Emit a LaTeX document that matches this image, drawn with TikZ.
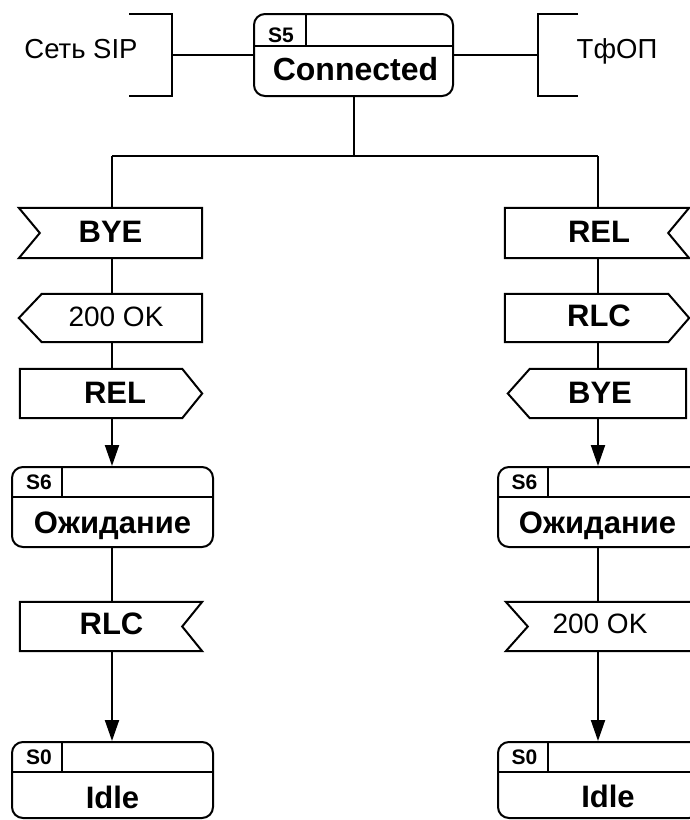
\documentclass[tikz,border=0pt]{standalone}
\usepackage{fontspec}
\setmainfont{Liberation Sans}
\usetikzlibrary{arrows.meta,calc}
\tikzset{
  ln/.style={line width=2pt, line join=miter},
  arr/.style={ln, -{Triangle[length=21pt,width=14pt]}},
  statebox/.style={draw, line width=2pt, rounded corners=11pt, inner sep=0pt},
  sigframe/.style={inner sep=0pt},
  bigb/.style={font=\fontsize{31}{34}\selectfont\bfseries, anchor=base, inner sep=0pt},
  bigr/.style={font=\fontsize{28}{32}\selectfont, anchor=base, inner sep=0pt},
  lbl/.style={font=\fontsize{27.5}{30}\selectfont, anchor=base, inner sep=0pt},
  stag/.style={font=\fontsize{21}{24}\selectfont\bfseries, anchor=base, inner sep=0pt},
}
% signal shapes drawn on an invisible frame node
\newcommand{\sigInL}[2]{\draw[ln] (#1.north west) -- (#1.north east) -- (#1.south east) -- (#1.south west) -- ($(#1.west)+(#2,0)$) -- cycle;}
\newcommand{\sigInR}[2]{\draw[ln] (#1.north west) -- (#1.north east) -- ($(#1.east)-(#2,0)$) -- (#1.south east) -- (#1.south west) -- cycle;}
\newcommand{\sigOutL}[2]{\draw[ln] ($(#1.north west)+(#2,0)$) -- (#1.north east) -- (#1.south east) -- ($(#1.south west)+(#2,0)$) -- (#1.west) -- cycle;}
\newcommand{\sigOutR}[2]{\draw[ln] (#1.north west) -- ($(#1.north east)-(#2,0)$) -- (#1.east) -- ($(#1.south east)-(#2,0)$) -- (#1.south west) -- cycle;}
\begin{document}
\begin{tikzpicture}[x=1pt,y=-1pt]
\useasboundingbox (0,0) rectangle (690,820);

% ---------- top: Connected with environment brackets ----------
\node[statebox, minimum width=199pt, minimum height=82pt] (s5) at (353.5,55) {};
\draw[ln] (s5.west |- 0,46) -- (s5.east |- 0,46);
\draw[ln] (306,14) -- (306,46);
\node[stag] (s5tag) at (281,42) {S5};
\node[bigb, font=\fontsize{32}{34}\selectfont\bfseries] (s5name) at (355.5,80) {Connected};

\draw[ln] (129,14) -- (172,14) -- (172,96) -- (129,96);
\coordinate (sipB) at (172,55);
\node[lbl] (sip) at (81,58) {Сеть SIP};
\draw[ln] (sipB) -- (s5.west);

\draw[ln] (578,14) -- (538,14) -- (538,96) -- (578,96);
\coordinate (pstnB) at (538,55);
\node[lbl] (pstn) at (617,58) {ТфОП};
\draw[ln] (s5.east) -- (pstnB);

% branch
\coordinate (jC) at (353.5,156);
\coordinate (jL) at (112,156);
\coordinate (jR) at (598,156);
\draw[ln] (s5.south) -- (jC);
\draw[ln] (jL) -- (jR);

% ---------- left column ----------
\node[sigframe, minimum width=183pt, minimum height=50pt] (byeL) at (110.5,233) {};
\sigInL{byeL}{21}
\node[bigb] (byeLt) at (110.5,242) {BYE};

\node[sigframe, minimum width=183pt, minimum height=48pt] (okL) at (110.5,318) {};
\sigOutL{okL}{23}
\node[bigr] (okLt) at (116,326) {200 OK};

\node[sigframe, minimum width=182pt, minimum height=49pt] (relL) at (111,393.5) {};
\sigOutR{relL}{20}
\node[bigb] (relLt) at (115,403) {REL};

\node[statebox, minimum width=201pt, minimum height=80pt] (s6L) at (112.5,507) {};
\draw[ln] (s6L.west |- 0,497) -- (s6L.east |- 0,497);
\draw[ln] (62,467) -- (62,497);
\node[stag] (s6Lt) at (39,489) {S6};
\node[bigb] (s6Ln) at (112.5,533) {Ожидание};

\node[sigframe, minimum width=182pt, minimum height=49pt] (rlcL) at (111,626.5) {};
\sigInR{rlcL}{20}
\node[bigb] (rlcLt) at (111.5,634) {RLC};

\node[statebox, minimum width=201pt, minimum height=76pt] (s0L) at (112.5,780) {};
\draw[ln] (s0L.west |- 0,772) -- (s0L.east |- 0,772);
\draw[ln] (62,742) -- (62,772);
\node[stag] (s0Lt) at (39,764) {S0};
\node[bigb] (s0Ln) at (112.5,808) {Idle};

\draw[ln] (jL) -- (jL |- byeL.north);
\draw[ln] (jL |- byeL.south) -- (jL |- okL.north);
\draw[ln] (jL |- okL.south) -- (jL |- relL.north);
\draw[arr] (jL |- relL.south) -- (jL |- s6L.north);
\draw[ln] (jL |- s6L.south) -- (jL |- rlcL.north);
\draw[arr] (jL |- rlcL.south) -- (jL |- s0L.north);

% ---------- right column ----------
\node[sigframe, minimum width=184pt, minimum height=50pt] (relR) at (597,233) {};
\sigInR{relR}{21}
\node[bigb] (relRt) at (599,242) {REL};

\node[sigframe, minimum width=184pt, minimum height=48pt] (rlcR) at (597,318) {};
\sigOutR{rlcR}{21}
\node[bigb] (rlcRt) at (599,326) {RLC};

\node[sigframe, minimum width=178pt, minimum height=49pt] (byeR) at (597,393.5) {};
\sigOutL{byeR}{22}
\node[bigb] (byeRt) at (600,403) {BYE};

\node[statebox, minimum width=202pt, minimum height=80pt] (s6R) at (599,507) {};
\draw[ln] (s6R.west |- 0,497) -- (s6R.east |- 0,497);
\draw[ln] (548,467) -- (548,497);
\node[stag] (s6Rt) at (524.5,489) {S6};
\node[bigb] (s6Rn) at (597.5,533) {Ожидание};

\node[sigframe, minimum width=186pt, minimum height=49pt] (okR) at (599,626.5) {};
\sigInL{okR}{22}
\node[bigr] (okRt) at (600,633) {200 OK};

\node[statebox, minimum width=202pt, minimum height=76pt] (s0R) at (599,780) {};
\draw[ln] (s0R.west |- 0,772) -- (s0R.east |- 0,772);
\draw[ln] (548,742) -- (548,772);
\node[stag] (s0Rt) at (524.5,764) {S0};
\node[bigb] (s0Rn) at (608,807) {Idle};

\draw[ln] (jR) -- (jR |- relR.north);
\draw[ln] (jR |- relR.south) -- (jR |- rlcR.north);
\draw[ln] (jR |- rlcR.south) -- (jR |- byeR.north);
\draw[arr] (jR |- byeR.south) -- (jR |- s6R.north);
\draw[ln] (jR |- s6R.south) -- (jR |- okR.north);
\draw[arr] (jR |- okR.south) -- (jR |- s0R.north);
\end{tikzpicture}
\end{document}
